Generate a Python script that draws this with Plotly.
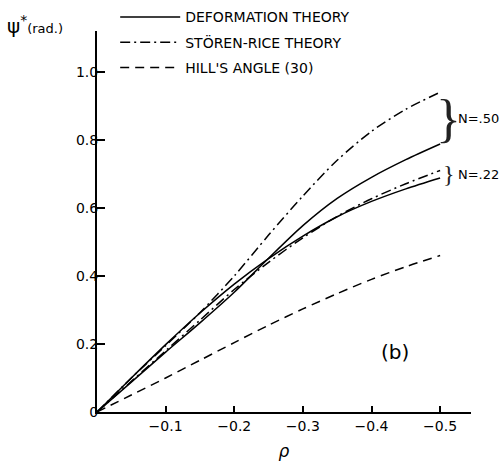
import plotly.graph_objects as go

rho = [0, -0.05, -0.1, -0.15, -0.2, -0.25, -0.3, -0.35, -0.4, -0.45, -0.5]
deform_n50 = [0, 0.088, 0.176, 0.262, 0.352, 0.452, 0.548, 0.628, 0.69, 0.742, 0.788]
deform_n22 = [0, 0.10, 0.198, 0.291, 0.376, 0.451, 0.517, 0.574, 0.619, 0.656, 0.688]
storen_n50 = [0, 0.10, 0.195, 0.292, 0.40, 0.52, 0.635, 0.74, 0.825, 0.89, 0.94]
storen_n22 = [0, 0.09, 0.18, 0.27, 0.36, 0.44, 0.512, 0.575, 0.627, 0.671, 0.71]
hill = [0, 0.05, 0.10, 0.152, 0.204, 0.255, 0.303, 0.348, 0.39, 0.427, 0.46]

xticks = [-0.1, -0.2, -0.3, -0.4, -0.5]
xticktext = ["−0.1", "−0.2", "−0.3", "−0.4", "−0.5"]
yticks = [0, 0.2, 0.4, 0.6, 0.8, 1.0]
yticktext = ["0", "0.2", "0.4", "0.6", "0.8", "1.0"]

FONT = "DejaVu Sans"
DASHDOT = "10px,4px,2px,4px"
LW = 1.5
SM = 0.8

fig = go.Figure()
fig.add_trace(go.Scatter(x=rho, y=deform_n50, mode="lines",
                         line=dict(color="black", width=LW, shape="spline", smoothing=SM),
                         name="DEFORMATION THEORY", legendgroup="d", showlegend=True))
fig.add_trace(go.Scatter(x=rho, y=deform_n22, mode="lines",
                         line=dict(color="black", width=LW, shape="spline", smoothing=SM),
                         name="DEFORMATION THEORY", legendgroup="d", showlegend=False))
fig.add_trace(go.Scatter(x=rho, y=storen_n50, mode="lines",
                         line=dict(color="black", width=LW, dash=DASHDOT, shape="spline", smoothing=SM),
                         name="STÖREN-RICE THEORY", legendgroup="s", showlegend=True))
fig.add_trace(go.Scatter(x=rho, y=storen_n22, mode="lines",
                         line=dict(color="black", width=LW, dash=DASHDOT, shape="spline", smoothing=SM),
                         name="STÖREN-RICE THEORY", legendgroup="s", showlegend=False))
fig.add_trace(go.Scatter(x=rho, y=hill, mode="lines",
                         line=dict(color="black", width=LW, dash="9px,6px", shape="spline", smoothing=SM),
                         name="HILL'S ANGLE (30)", legendgroup="h", showlegend=True))

# braces and N labels, positioned from the data ends
xb = rho[-1] - 0.0125
xl = rho[-1] - 0.0225
mid50 = (storen_n50[-1] + deform_n50[-1]) / 2
mid22 = (storen_n22[-1] + deform_n22[-1]) / 2
fig.add_annotation(x=xb, y=mid50, text="}", showarrow=False, xanchor="center", yanchor="middle",
                   font=dict(family="Liberation Serif", size=52, color="#222"))
fig.add_annotation(x=xl, y=mid50, text="N=.50", showarrow=False, xanchor="left", yanchor="middle",
                   font=dict(family=FONT, size=13, color="black"))
fig.add_annotation(x=xb, y=mid22, text="}", showarrow=False, xanchor="center", yanchor="middle",
                   font=dict(family="Liberation Serif", size=24, color="#222"))
fig.add_annotation(x=xl, y=mid22, text="N=.22", showarrow=False, xanchor="left", yanchor="middle",
                   font=dict(family=FONT, size=13, color="black"))
fig.add_annotation(x=-0.434, y=0.176, text="(b)", showarrow=False, xanchor="center", yanchor="middle",
                   font=dict(family=FONT, size=20, color="black"))
fig.add_annotation(xref="paper", yref="paper", x=-0.245, y=1.015, xanchor="left", yanchor="middle",
                   text="ψ<sup>*</sup><span style='font-size:13px'>(rad.)</span>", showarrow=False,
                   font=dict(family=FONT, size=20, color="black"))

fig.update_layout(
    width=503, height=466,
    margin=dict(l=97, r=32, t=31, b=54, autoexpand=False),
    paper_bgcolor="white", plot_bgcolor="white",
    font=dict(family=FONT, size=14, color="black"),
    legend=dict(xref="container", yref="container", x=0.229, y=0.997, xanchor="left", yanchor="top",
                bgcolor="rgba(0,0,0,0)",
                font=dict(family=FONT, size=14, color="black"), tracegroupgap=4, itemwidth=60),
)
fig.update_xaxes(range=[0, -0.545], tickvals=xticks, ticktext=xticktext, ticks="inside", ticklen=6,
                 tickwidth=1.5, tickcolor="black", showline=True, linecolor="black", linewidth=2,
                 showgrid=False, zeroline=False, automargin=False,
                 title=dict(text="<i>ρ</i>", font=dict(family=FONT, size=17), standoff=12))
fig.update_yaxes(range=[0, 1.12], tickvals=yticks, ticktext=yticktext, ticks="inside", ticklen=8,
                 tickwidth=1.5, tickcolor="black", showline=True, linecolor="black", linewidth=2,
                 showgrid=False, zeroline=False, ticklabelstandoff=-6, automargin=False)

fig.write_html("out.html")
